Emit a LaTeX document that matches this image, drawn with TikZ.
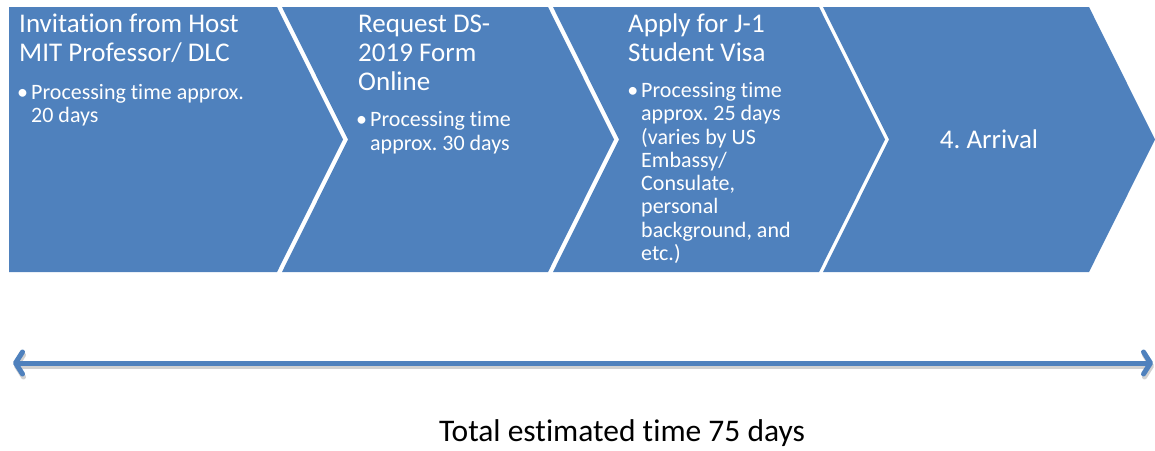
\documentclass[tikz,border=0pt]{standalone}
\usepackage{fontspec}
\setmainfont{Carlito}[Ligatures=NoCommon]
\frenchspacing
\usetikzlibrary{arrows.meta}
\definecolor{stepblue}{HTML}{4F81BD}
\tikzset{
  title/.style={text=white, anchor=base west, inner sep=0pt, align=left, font=\fontsize{27}{29}\selectfont},
  point/.style={text=white, anchor=base west, inner sep=0pt, align=left, font=\fontsize{22}{23.3}\selectfont},
  timeline/.style={line width=5pt, {Straight Barb[length=7pt,width=22pt,line cap=round,line join=round]}-{Straight Barb[length=7pt,width=22pt,line cap=round,line join=round]}},
}

\begin{document}
\begin{tikzpicture}[x=1pt,y=-1pt]
\useasboundingbox (0,0) rectangle (1155,450);
% first step has a flat left side
\fill[stepblue] (9,7) -- (277,7) -- (343,139.5) -- (277,272) -- (9,272) -- cycle;
% the other three are chevrons
\foreach \x in {282,553,823}
  \fill[stepblue] (\x,7) -- (\x+266,7) -- (\x+332,139.5) -- (\x+266,272) -- (\x,272) -- (\x+66,139.5) -- cycle;

% nodes sit on the baseline of their last line
\node[title] (inv) at (19,61) {Invitation from Host\\MIT Professor/ DLC};
\node[point] (inv-time) at (31,122.5) {\llap{\textbullet\hspace{3pt}}Processing time approx.\\20 days};

\node[title] (ds) at (358,90) {Request DS-\\2019 Form\\Online};
\node[point] (ds-time) at (370,150) {\llap{\textbullet\hspace{3pt}}Processing time\\approx. 30 days};

\node[title] (visa) at (628,61) {Apply for J-1\\Student Visa};
\node[point] (visa-time) at (641,260.5) {\llap{\textbullet\hspace{3pt}}Processing time\\approx. 25 days\\(varies by US\\Embassy/\\Consulate,\\personal\\background, and\\etc.)};

\node[title, anchor=base] (arr) at (989,148) {4. Arrival};

% total time line
\coordinate (start) at (13,363);
\coordinate (end) at (1153,363);
\draw[timeline, black, opacity=0.18, transform canvas={shift={(1pt,-3pt)}}] (start) -- (end);
\draw[timeline, stepblue] (start) -- (end);
\node[font=\fontsize{31.5}{36}\selectfont, anchor=base] (total) at (622,441) {Total estimated time 75 days};
\end{tikzpicture}
\end{document}
